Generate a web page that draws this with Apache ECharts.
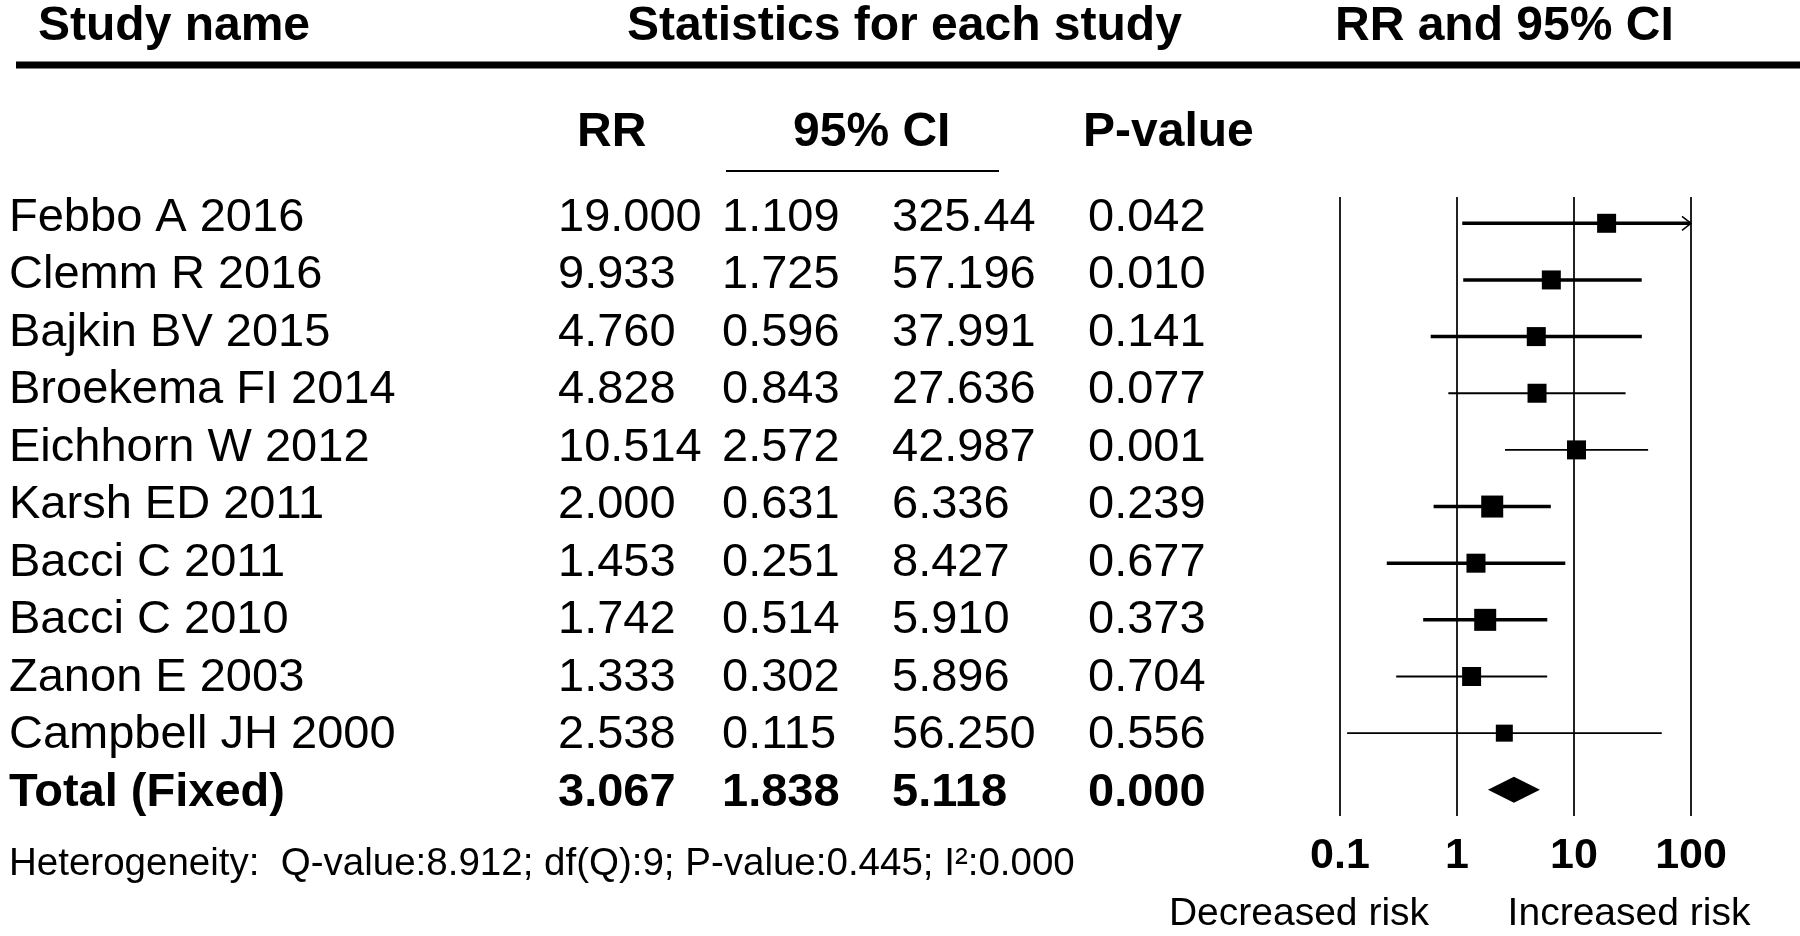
<!DOCTYPE html>
<html>
<head>
<meta charset="utf-8">
<title>Forest plot</title>
<script src="https://cdn.jsdelivr.net/npm/echarts@6/dist/echarts.min.js"></script>
<style>
  html, body { margin: 0; padding: 0; background: #fff; }
  #chart { width: 1800px; height: 936px; }
</style>
</head>
<body>
<div id="chart"></div>
<script>
// TABLE
var studies = ['Febbo A 2016', 'Clemm R 2016', 'Bajkin BV 2015', 'Broekema FI 2014', 'Eichhorn W 2012',
    'Karsh ED 2011', 'Bacci C 2011', 'Bacci C 2010', 'Zanon E 2003', 'Campbell JH 2000', 'Total (Fixed)'];
var rrText = ['19.000', '9.933', '4.760', '4.828', '10.514', '2.000', '1.453', '1.742', '1.333', '2.538', '3.067'];
var loText = ['1.109', '1.725', '0.596', '0.843', '2.572', '0.631', '0.251', '0.514', '0.302', '0.115', '1.838'];
var hiText = ['325.44', '57.196', '37.991', '27.636', '42.987', '6.336', '8.427', '5.910', '5.896', '56.250', '5.118'];
var pText = ['0.042', '0.010', '0.141', '0.077', '0.001', '0.239', '0.677', '0.373', '0.704', '0.556', '0.000'];

// PLOT (as drawn in the forest plot)
var plotRR = [19.0, 6.4, 4.76, 4.83, 10.5, 2.0, 1.453, 1.742, 1.333, 2.538];
var plotLo = [1.109, 1.13, 0.596, 0.843, 2.572, 0.631, 0.251, 0.514, 0.302, 0.115];
var plotHi = [325.44, 37.9, 37.991, 27.6, 42.987, 6.336, 8.427, 5.91, 5.896, 56.25];
var totalRR = 3.067;
var totalLo = 1.838;
var totalHi = 5.118;
var axisTicks = [0.1, 1, 10, 100];
var heterogeneity = 'Heterogeneity:  Q-value:8.912; df(Q):9; P-value:0.445; I\u00b2:0.000';

// styles
var FONT = "'Liberation Sans', Arial, Helvetica, sans-serif";
var boxSize = [19, 19, 19, 19, 19, 22, 19, 22, 19, 17];
var lineW = [3.5, 3.5, 3.5, 1.8, 1.8, 3.5, 3.5, 3.5, 1.8, 1.8];
var colX = [9, 558, 722, 892, 1088];
var xMin = axisTicks[0];
var xMax = axisTicks[axisTicks.length - 1];

var dom = document.getElementById('chart');
var myChart = echarts.init(dom, null, { renderer: 'canvas' });

function tableColumn(texts, x) {
    return texts.map(function (t, i) {
        return { name: t, value: [x, i] };
    });
}

function textItem(text, api) {
    var p = api.coord([api.value(0), api.value(1)]);
    var isTotal = api.value(1) === studies.length - 1;
    return {
        type: 'text',
        x: p[0],
        y: p[1],
        style: {
            text: text,
            fontFamily: FONT,
            fontSize: 47,
            fontWeight: isTotal ? 'bold' : 'normal',
            fill: '#000',
            align: 'left',
            verticalAlign: 'middle'
        }
    };
}

var tableSeries = [studies, rrText, loText, hiText, pText].map(function (texts, c) {
    return {
        type: 'custom',
        xAxisIndex: 1,
        yAxisIndex: 1,
        silent: true,
        encode: { x: 0, y: 1 },
        renderItem: function (params, api) {
            return textItem(texts[params.dataIndex], api);
        },
        data: tableColumn(texts, colX[c])
    };
});

var ciData = plotRR.map(function (v, i) {
    return [i, plotLo[i], plotHi[i], v];
});

var option = {
    animation: false,
    backgroundColor: '#fff',
    grid: [
        { left: 1340, right: 109, top: 197, bottom: 120 },
        { left: 0, right: 0, top: 189.25, bottom: 114.25 }
    ],
    xAxis: [
        {
            type: 'log',
            logBase: 10,
            min: xMin,
            max: xMax,
            gridIndex: 0,
            axisLine: { show: false },
            axisTick: { show: false },
            splitLine: { show: true, lineStyle: { color: '#222', width: 2 } },
            axisLabel: {
                margin: 19,
                fontFamily: FONT,
                fontSize: 43,
                fontWeight: 'bold',
                color: '#000',
                formatter: function (v) { return String(+(+v).toPrecision(3)); }
            }
        },
        { type: 'value', gridIndex: 1, min: 0, max: 1800, show: false }
    ],
    yAxis: [
        { type: 'value', gridIndex: 0, inverse: true, min: -0.464, max: 10.4625, show: false },
        { type: 'value', gridIndex: 1, inverse: true, min: -0.5, max: 10.5, show: false }
    ],
    graphic: [
        { type: 'text', left: 38, top: 3, style: { text: 'Study name', fontFamily: FONT, fontSize: 48, fontWeight: 'bold', fill: '#000' } },
        { type: 'text', left: 627, top: 3, style: { text: 'Statistics for each study', fontFamily: FONT, fontSize: 48, fontWeight: 'bold', fill: '#000' } },
        { type: 'text', left: 1335, top: 3, style: { text: 'RR and 95% CI', fontFamily: FONT, fontSize: 48, fontWeight: 'bold', fill: '#000' } },
        { type: 'rect', shape: { x: 16, y: 61.5, width: 1784, height: 7 }, style: { fill: '#000' } },
        { type: 'text', left: 577, top: 109, style: { text: 'RR', fontFamily: FONT, fontSize: 48, fontWeight: 'bold', fill: '#000' } },
        { type: 'text', left: 793, top: 109, style: { text: '95% CI', fontFamily: FONT, fontSize: 48, fontWeight: 'bold', fill: '#000' } },
        { type: 'text', left: 1083, top: 109, style: { text: 'P-value', fontFamily: FONT, fontSize: 48, fontWeight: 'bold', fill: '#000' } },
        { type: 'line', shape: { x1: 726, y1: 171, x2: 999, y2: 171 }, style: { stroke: '#000', lineWidth: 2 } },
        { type: 'text', left: 9, top: 845, style: { text: heterogeneity, fontFamily: FONT, fontSize: 38.5, fill: '#000' } },
        { type: 'text', x: 1299, y: 914, style: { text: 'Decreased risk', fontFamily: FONT, fontSize: 39, fill: '#000', align: 'center', verticalAlign: 'middle' } },
        { type: 'text', x: 1629, y: 914, style: { text: 'Increased risk', fontFamily: FONT, fontSize: 39, fill: '#000', align: 'center', verticalAlign: 'middle' } }
    ],
    series: [
        {
            type: 'custom',
            xAxisIndex: 0,
            yAxisIndex: 0,
            silent: true,
            clip: false,
            encode: { x: [1, 2, 3], y: 0 },
            renderItem: function (params, api) {
                var i = params.dataIndex;
                var row = api.value(0);
                var hiVal = api.value(2);
                var clipped = hiVal > xMax;
                var p0 = api.coord([api.value(1), row]);
                var p1 = api.coord([clipped ? xMax : hiVal, row]);
                var pc = api.coord([api.value(3), row]);
                var s = boxSize[i];
                var children = [
                    { type: 'line', shape: { x1: p0[0], y1: p0[1], x2: p1[0], y2: p1[1] }, style: { stroke: '#000', lineWidth: lineW[i] } },
                    { type: 'rect', shape: { x: pc[0] - s / 2, y: pc[1] - s / 2, width: s, height: s }, style: { fill: '#000' } }
                ];
                if (clipped) {
                    children.push({
                        type: 'polyline',
                        shape: { points: [[p1[0] - 9, p1[1] - 7], [p1[0], p1[1]], [p1[0] - 9, p1[1] + 7]] },
                        style: { stroke: '#000', lineWidth: 1.5, fill: null }
                    });
                }
                return { type: 'group', children: children };
            },
            data: ciData
        },
        {
            type: 'custom',
            xAxisIndex: 0,
            yAxisIndex: 0,
            silent: true,
            clip: false,
            encode: { x: [1, 2, 3], y: 0 },
            renderItem: function (params, api) {
                var row = api.value(0);
                var pl = api.coord([api.value(1), row]);
                var ph = api.coord([api.value(2), row]);
                var pc = api.coord([api.value(3), row]);
                var h = 13;
                return {
                    type: 'polygon',
                    shape: { points: [[pl[0], pl[1]], [pc[0], pc[1] - h], [ph[0], ph[1]], [pc[0], pc[1] + h]] },
                    style: { fill: '#000' }
                };
            },
            data: [[studies.length - 1, totalLo, totalHi, totalRR]]
        }
    ].concat(tableSeries)
};

if (option && typeof option === 'object') {
    myChart.setOption(option);
}
</script>
</body>
</html>
